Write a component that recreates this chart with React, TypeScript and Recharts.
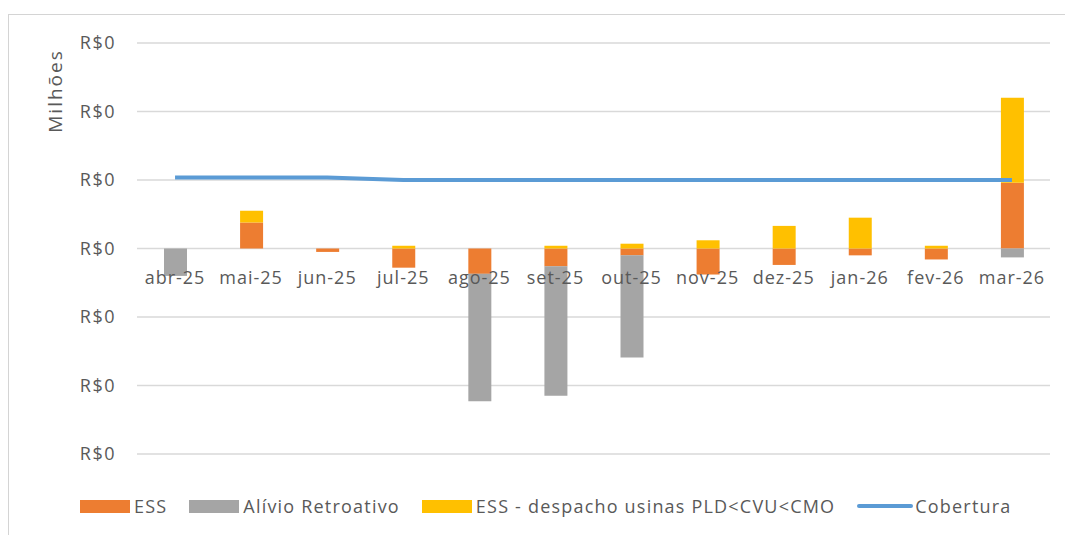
import React from 'react';
import {
  ComposedChart,
  Bar,
  Line,
  XAxis,
  YAxis,
  CartesianGrid,
} from 'recharts';

const months = ['abr-25', 'mai-25', 'jun-25', 'jul-25', 'ago-25', 'set-25', 'out-25', 'nov-25', 'dez-25', 'jan-26', 'fev-26', 'mar-26'];
const ess = [0, 0.38, -0.05, -0.28, -0.37, -0.26, -0.1, -0.38, -0.24, -0.1, -0.16, 0.96];
const alivio = [-0.4, 0, 0, 0, -1.86, -1.89, -1.49, 0, 0, 0, 0, -0.13];
const essDespacho = [0, 0.17, 0, 0.04, 0, 0.04, 0.07, 0.12, 0.33, 0.45, 0.04, 1.24];
const cobertura = [1.035, 1.035, 1.035, 1.0, 1.0, 1.0, 1.0, 1.0, 1.0, 1.0, 1.0, 1.0];
const yTicks = [-3, -2, -1, 0, 1, 2, 3];

const series = [
  { key: 'ess', name: 'ESS', color: '#ed7d31', kind: 'bar' },
  { key: 'alivio', name: 'Alívio Retroativo', color: '#a5a5a5', kind: 'bar' },
  { key: 'essDespacho', name: 'ESS - despacho usinas PLD<CVU<CMO', color: '#ffc000', kind: 'bar' },
  { key: 'cobertura', name: 'Cobertura', color: '#5b9bd5', kind: 'line' },
];

const data = months.map((month, i) => ({
  month,
  ess: ess[i],
  alivio: alivio[i],
  essDespacho: essDespacho[i],
  cobertura: cobertura[i],
}));

const W = 1065;
const H = 535;
const PLOT_TOP = 43;
const PLOT_BOTTOM = 454;
const Y_MIN = -3;
const Y_MAX = 3;
const ZERO_Y = PLOT_TOP + ((PLOT_BOTTOM - PLOT_TOP) * Y_MAX) / (Y_MAX - Y_MIN);

const FONT = '"Open Sans", sans-serif';
const TEXT = '#595959';

// category labels sit just under the zero line, like Excel's "next to axis"
const MonthTick = (props: any) => {
  const { x, payload } = props;
  return (
    <text
      x={x}
      y={ZERO_Y + 29}
      dy="0.35em"
      textAnchor="middle"
      fill={TEXT}
      fontSize={18}
      fontFamily={FONT}
      letterSpacing={1}
    >
      {payload.value}
    </text>
  );
};

const LegendRow = () => (
  <div
    style={{
      position: 'absolute',
      left: 80,
      top: 494,
      display: 'flex',
      alignItems: 'center',
      fontFamily: FONT,
      fontSize: 18,
      letterSpacing: 1.2,
      color: TEXT,
      whiteSpace: 'nowrap',
    }}
  >
    {series.map((s) => (
      <div key={s.key} style={{ display: 'flex', alignItems: 'center', marginRight: 22 }}>
        {s.kind === 'bar' ? (
          <div style={{ width: 50, height: 13, background: s.color, marginRight: 4 }} />
        ) : (
          <div style={{ width: 56, height: 4, background: s.color, marginRight: 2, borderRadius: 2 }} />
        )}
        <span>{s.name}</span>
      </div>
    ))}
  </div>
);

export default function App() {
  return (
    <div
      style={{
        position: 'fixed',
        left: 0,
        top: 0,
        width: W,
        height: H,
        overflow: 'hidden',
        background: '#fff',
      }}
    >
      <style>{'html, body { margin: 0; padding: 0; overflow: hidden; background: #fff; }'}</style>
      {/* chart frame: only the top and left edges are inside the crop */}
      <div
        style={{
          position: 'absolute',
          left: 8,
          top: 14,
          width: W + 40,
          height: H + 40,
          borderLeft: '1.5px solid #d4d4d4',
          borderTop: '1.5px solid #d4d4d4',
        }}
      />
      <div style={{ position: 'absolute', left: 0, top: 0 }}>
        <ComposedChart
          width={W}
          height={H}
          data={data}
          stackOffset="sign"
          margin={{ top: PLOT_TOP, right: W - 1050, bottom: H - PLOT_BOTTOM - 30, left: 40 }}
        >
          <CartesianGrid vertical={false} stroke="#d9d9d9" strokeWidth={1.3} />
          <XAxis
            dataKey="month"
            axisLine={false}
            tickLine={false}
            interval={0}
            height={30}
            tick={<MonthTick />}
          />
          <YAxis
            width={97}
            domain={[Y_MIN, Y_MAX]}
            ticks={yTicks}
            axisLine={false}
            tickLine={false}
            tickSize={0}
            tickMargin={21}
            tickFormatter={() => 'R$0'}
            tick={{ fill: TEXT, fontSize: 18, fontFamily: FONT, letterSpacing: 1.5 }}
          />
          {series
            .filter((s) => s.kind === 'bar')
            .map((s) => (
              <Bar
                key={s.key}
                dataKey={s.key}
                name={s.name}
                stackId="a"
                fill={s.color}
                barSize={23}
                isAnimationActive={false}
              />
            ))}
          <Line
            dataKey="cobertura"
            name="Cobertura"
            stroke="#5b9bd5"
            strokeWidth={4}
            dot={false}
            activeDot={false}
            type="linear"
            isAnimationActive={false}
          />
        </ComposedChart>
      </div>
      <div
        style={{
          position: 'absolute',
          left: 55,
          top: 91,
          transform: 'translate(-50%, -50%) rotate(-90deg)',
          fontFamily: FONT,
          fontSize: 19,
          letterSpacing: 2,
          color: TEXT,
          whiteSpace: 'nowrap',
        }}
      >
        Milhões
      </div>
      <LegendRow />
    </div>
  );
}
